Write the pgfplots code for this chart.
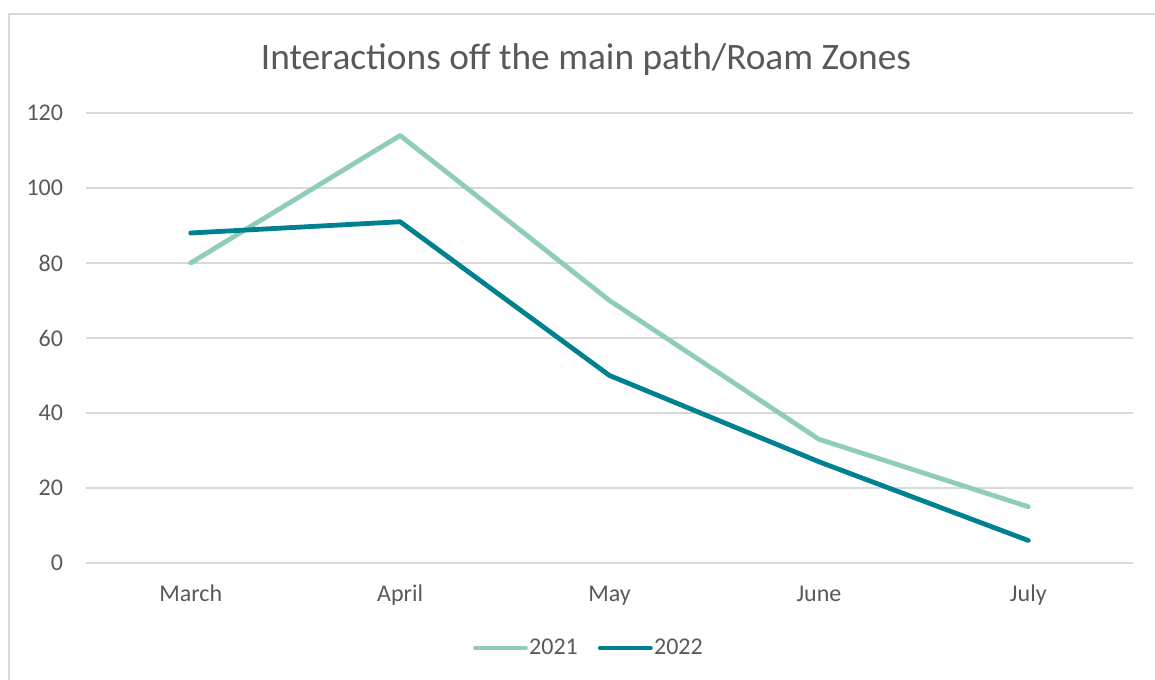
\documentclass[border=0pt]{standalone}
\usepackage{pgfplots}
\pgfplotsset{compat=1.18}
\usepackage{fontspec}
\setmainfont{Carlito}
\definecolor{cA}{HTML}{8FCDB4}
\definecolor{cB}{HTML}{00818F}
\definecolor{txt}{HTML}{595959}
\definecolor{grd}{HTML}{D9D9D9}
\begin{document}
\begin{tikzpicture}[x=0.75pt,y=0.75pt]
\useasboundingbox (0,0) rectangle (1155,680);
\clip (0,0) rectangle (1155,680);
\draw[grd, line width=1.5pt] (9,666) rectangle (1175,-20);
\node[txt, font=\fontsize{28}{33}\selectfont, anchor=base] at (586,680-70) {Interactions off the main path/Roam Zones};
\begin{axis}[
  at={(64.5pt,87.75pt)}, anchor=south west,
  scale only axis, width=785.25pt, height=337.5pt,
  xmin=-0.5, xmax=4.5, ymin=0, ymax=120,
  ytick={0,20,...,120},
  xtick={0,1,2,3,4},
  xticklabels={March,April,May,June,July},
  axis line style={draw=none},
  axis x line*=bottom,
  major tick length=0pt,
  ymajorgrids, grid style={grd, line width=1pt},
  /pgf/number format/assume math mode=true,
  tick label style={txt, font=\fontsize{18}{21}\selectfont},
  yticklabel style={inner sep=0pt, xshift=-17pt},
  xticklabel style={anchor=base, inner sep=0pt, yshift=-29.25pt},
  clip=false,
  legend columns=2,
  legend style={at={(0.48,-0.189)}, anchor=center, draw=none, fill=none,
    font=\fontsize{18}{21}\selectfont, text=txt,
    /tikz/every even column/.append style={column sep=14pt},
    nodes={inner sep=1pt}},
  legend image code/.code={\draw[#1, line width=3.2pt, line cap=round] (0pt,0pt) -- (38pt,0pt);},
]
\draw[grd, line width=1pt] (axis cs:-0.5,0) -- (axis cs:4.5,0);
\addplot[cA, line width=3.6pt, line cap=round, line join=round] coordinates {(0,80) (1,114) (2,70) (3,33) (4,15)};
\addlegendentry{2021}
\addplot[cB, line width=3.6pt, line cap=round, line join=round] coordinates {(0,88) (1,91) (2,50) (3,27) (4,6)};
\addlegendentry{2022}
\end{axis}
\end{tikzpicture}
\end{document}
